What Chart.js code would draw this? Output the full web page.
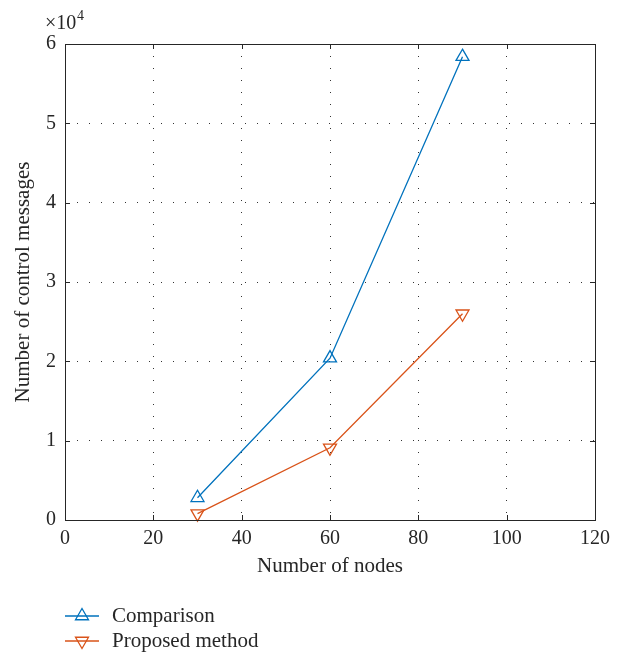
<!DOCTYPE html>
<html lang="en">
<head>
<meta charset="UTF-8">
<title>Number of control messages</title>
<script src="https://cdn.jsdelivr.net/npm/chart.js@4.4.1/dist/chart.umd.min.js"></script>
<style>
    body {
        margin: 0;
        padding: 0;
        background-color: #ffffff;
    }
    #msgChart {
        display: block;
    }
</style>
</head>
<body>
<canvas id="msgChart" width="624" height="656"></canvas>
<script>
// data
const nodes = [30, 60, 90];
const comparison = [2800, 20400, 58400];
const proposed = [800, 9100, 26000];
const seriesNames = ["Comparison", "Proposed method"];
const xTicks = [0, 20, 40, 60, 80, 100, 120];
const yTicks = [0, 1, 2, 3, 4, 5, 6]; // in units of 10^4

const blue = "#0072BD";
const orange = "#D95319";
const serif = "'Liberation Serif', 'DejaVu Serif', serif";
const markerSize = 7.5;

// box round the axes, inward ticks, x10^4 label and the legend
const matlabLook = {
    id: "matlabLook",
    afterDraw(chart) {
        const ctx = chart.ctx;
        const a = chart.chartArea;
        const xs = chart.scales.x;
        const ys = chart.scales.y;
        ctx.save();
        ctx.strokeStyle = "#262626";
        ctx.lineWidth = 1;
        ctx.strokeRect(Math.round(a.left) + 0.5, Math.round(a.top) + 0.5,
            Math.round(a.right - a.left), Math.round(a.bottom - a.top));
        ctx.beginPath();
        xTicks.forEach(v => {
            const px = Math.round(xs.getPixelForValue(v)) + 0.5;
            ctx.moveTo(px, a.bottom);
            ctx.lineTo(px, a.bottom - 5);
            ctx.moveTo(px, a.top);
            ctx.lineTo(px, a.top + 5);
        });
        yTicks.forEach(v => {
            const py = Math.round(ys.getPixelForValue(v * 10000)) + 0.5;
            ctx.moveTo(a.left, py);
            ctx.lineTo(a.left + 5, py);
            ctx.moveTo(a.right, py);
            ctx.lineTo(a.right - 5, py);
        });
        ctx.stroke();

        // exponent label
        ctx.fillStyle = "#262626";
        ctx.textBaseline = "alphabetic";
        ctx.textAlign = "left";
        ctx.font = "20px " + serif;
        ctx.fillText("\u00d710", 45, 29);
        ctx.font = "14px " + serif;
        ctx.fillText("4", 77, 20);

        // legend
        const rows = [
            { label: seriesNames[0], color: blue, rot: 0, y: 616 },
            { label: seriesNames[1], color: orange, rot: 180, y: 641 }
        ];
        rows.forEach(r => {
            ctx.strokeStyle = r.color;
            ctx.lineWidth = 1.3;
            ctx.beginPath();
            ctx.moveTo(65, r.y);
            ctx.lineTo(99, r.y);
            ctx.stroke();
            ctx.fillStyle = "rgba(0,0,0,0)";
            Chart.helpers.drawPoint(ctx, {
                pointStyle: "triangle", radius: markerSize, rotation: r.rot,
                borderWidth: 1.3
            }, 82, r.y);
            ctx.fillStyle = "#262626";
            ctx.font = "21px " + serif;
            ctx.textBaseline = "middle";
            ctx.fillText(r.label, 112, r.y);
        });
        ctx.restore();
    }
};

const ctx = document.getElementById("msgChart").getContext("2d");
new Chart(ctx, {
    type: "line",
    data: {
        labels: nodes,
        datasets: [{
            label: seriesNames[0],
            data: nodes.map((n, i) => ({ x: n, y: comparison[i] })),
            borderColor: blue,
            borderWidth: 1.3,
            pointStyle: "triangle",
            pointRadius: markerSize,
            pointRotation: 0,
            pointBorderColor: blue,
            pointBackgroundColor: "rgba(0,0,0,0)",
            pointBorderWidth: 1.3,
            tension: 0,
            clip: false
        }, {
            label: seriesNames[1],
            data: nodes.map((n, i) => ({ x: n, y: proposed[i] })),
            borderColor: orange,
            borderWidth: 1.3,
            pointStyle: "triangle",
            pointRadius: markerSize,
            pointRotation: 180,
            pointBorderColor: orange,
            pointBackgroundColor: "rgba(0,0,0,0)",
            pointBorderWidth: 1.3,
            tension: 0,
            clip: false
        }]
    },
    options: {
        responsive: false,
        animation: false,
        events: [],
        layout: { padding: { left: 0, top: 44, right: 29, bottom: 66 } },
        plugins: {
            legend: { display: false },
            tooltip: { enabled: false }
        },
        scales: {
            x: {
                type: "linear",
                min: 0,
                max: 120,
                afterBuildTicks: s => { s.ticks = xTicks.map(v => ({ value: v })); },
                afterFit: s => { s.height = 70; },
                border: { display: false, dash: [1, 11] },
                grid: {
                    color: "#333333",
                    lineWidth: 1,
                    drawTicks: false
                },
                ticks: {
                    color: "#262626",
                    font: { family: serif, size: 20 },
                    padding: 7,
                    maxRotation: 0
                },
                title: {
                    display: true,
                    text: "Number of nodes",
                    color: "#262626",
                    font: { family: serif, size: 21 },
                    padding: { top: 0, bottom: 11 }
                }
            },
            y: {
                type: "linear",
                min: 0,
                max: 60000,
                afterBuildTicks: s => { s.ticks = yTicks.map(v => ({ value: v * 10000 })); },
                afterFit: s => { s.width = 65; },
                border: { display: false, dash: [1, 11] },
                grid: {
                    color: "#333333",
                    lineWidth: 1,
                    drawTicks: false
                },
                ticks: {
                    color: "#262626",
                    font: { family: serif, size: 20 },
                    padding: 9,
                    callback: v => v / 10000
                },
                title: {
                    display: true,
                    text: "Number of control messages",
                    color: "#262626",
                    font: { family: serif, size: 21 },
                    padding: { top: 11, bottom: 0 }
                }
            }
        }
    },
    plugins: [matlabLook]
});
</script>
</body>
</html>
